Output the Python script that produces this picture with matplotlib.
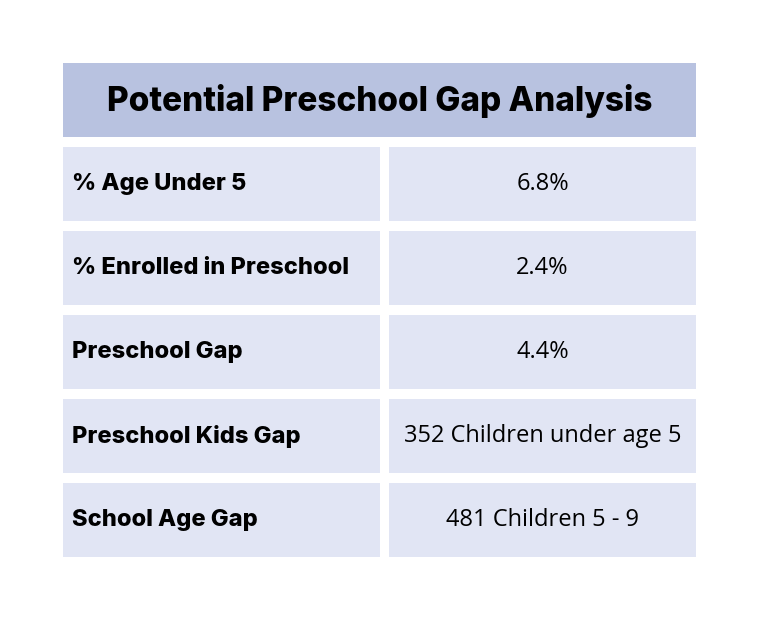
import matplotlib
matplotlib.use('Agg')
import matplotlib.pyplot as plt
from matplotlib.patches import Rectangle

TITLE = 'Potential Preschool Gap Analysis'
row_labels = ['% Age Under 5', '% Enrolled in Preschool', 'Preschool Gap',
              'Preschool Kids Gap', 'School Age Gap']
row_values = ['6.8%', '2.4%', '4.4%', '352 Children under age 5', '481 Children 5 - 9']

HEAD_BG = '#b8c2e0'; CELL_BG = '#e1e5f4'; TXT = '#000000'

W, H = 768, 628
fig = plt.figure(figsize=(W/100, H/100), dpi=100)
ax = fig.add_axes([0, 0, 1, 1])
ax.set_xlim(0, W); ax.set_ylim(H, 0); ax.axis('off')

# layout (pixels)
x0, x1 = 63, 696
split_l, split_r = 380, 389
head_top, head_h = 63, 74
row_top, row_h, row_gap = 147, 74, 10

ax.add_patch(Rectangle((x0, head_top), x1-x0, head_h, color=HEAD_BG, lw=0))
ax.text((x0+x1)/2, head_top+head_h/2+1, TITLE, ha='center', va='center',
        fontsize=24, fontweight='heavy', family='Inter', color='black')

for i, (lab, val) in enumerate(zip(row_labels, row_values)):
    y = row_top + i*(row_h+row_gap)
    ax.add_patch(Rectangle((x0, y), split_l-x0, row_h, color=CELL_BG, lw=0))
    ax.add_patch(Rectangle((split_r, y), x1-split_r, row_h, color=CELL_BG, lw=0))
    ax.text(x0+9, y+row_h/2, lab, ha='left', va='center', fontsize=17,
            fontweight='heavy', family='Inter', color=TXT)
    ax.text((split_r+x1)/2, y+row_h/2, val, ha='center', va='center',
            fontsize=17, family='Open Sans', color=TXT)

fig.savefig('out.png', dpi=100)
